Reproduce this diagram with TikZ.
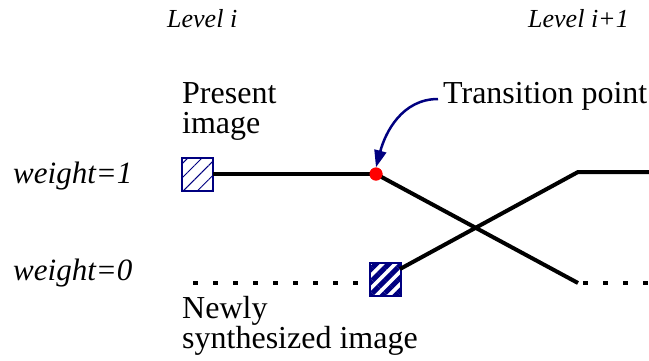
\documentclass[tikz,border=0pt]{standalone}
\usepackage{fontspec}
\setmainfont{Liberation Serif}
\usetikzlibrary{patterns.meta,arrows.meta}
\definecolor{navyb}{RGB}{0,0,128}
\begin{document}
\begin{tikzpicture}[x=1pt,y=-1pt,
  thickline/.style={line width=4pt,black},
  dotline/.style={line width=4.5pt,black,dash pattern=on 5pt off 15pt},
  lbl/.style={inner sep=0pt,anchor=base west,font=\fontsize{32}{30}\selectfont,align=left},
  ilbl/.style={inner sep=0pt,anchor=base west,font=\fontsize{31}{30}\selectfont\itshape},
  lvl/.style={inner sep=0pt,anchor=base west,font=\fontsize{26}{30}\selectfont\itshape},
  imgbox/.style={draw=navyb,line width=2pt,minimum width=31pt,minimum height=33pt,inner sep=0pt}]
\useasboundingbox (0,0) rectangle (649,360);
% labels
\node[lvl] (lvA) at (167,27) {Level i};
\node[lvl] (lvB) at (528,27) {Level i+1};
\node[ilbl] (w1) at (13,183) {weight=1};
\node[ilbl] (w0) at (13,280) {weight=0};
\node[lbl] (pres) at (182,133) {Present\\image};
\node[lbl] (newl) at (182,348) {Newly\\synthesized image};
\node[lbl] (trans) at (443,103) {Transition point};
% image boxes
\node[imgbox,pattern={Lines[angle=45,distance=10pt,line width=1pt]},pattern color=navyb] (pimg) at (197,174) {};
\node[imgbox,pattern={Lines[angle=45,distance=9pt,line width=5pt]},pattern color=navyb] (nimg) at (385,279.5) {};
% transition dot
\node[circle,fill=red,inner sep=0pt,minimum size=13pt] (dot) at (376,174) {};
% coordinates
\coordinate (c1) at (578,283);
\coordinate (c2) at (578,172);
\coordinate (e1) at (649,172);
\coordinate (d0) at (193,283);
\coordinate (d1) at (583,283);
\coordinate (d2) at (649,283);
\coordinate (ns) at (400,269);
\coordinate (a0) at (438,99);
% lines
\draw[thickline] (pimg.east) -- (dot.center);
\draw[thickline] (dot.center) -- (c1);
\draw[thickline] (ns) -- (c2) -- (e1);
\draw[dotline] (d0) -- (nimg.west |- d0);
\draw[dotline] (d1) -- (d2);
\node[circle,fill=red,inner sep=0pt,minimum size=13pt] at (dot) {};
% arrow
\draw[navyb,line width=2.5pt,-{Triangle[length=17pt,width=12pt]}] (a0) to[out=180,in=75] (dot.north);
\end{tikzpicture}
\end{document}
